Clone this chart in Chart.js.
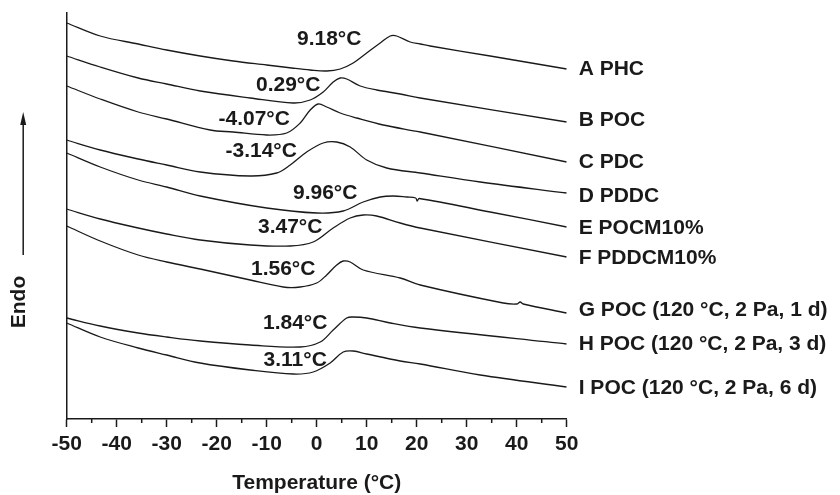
<!DOCTYPE html>
<html><head><meta charset="utf-8">
<script src="https://cdn.jsdelivr.net/npm/chart.js@4.4.1/dist/chart.umd.min.js"></script>
<style>html,body{margin:0;padding:0;background:#fff}#wrap{width:840px;height:495px;position:relative}</style>
</head><body><div id="wrap"><canvas id="c" width="840" height="495"></canvas></div>
<script>
// Temperature (°C) / heat flow (arbitrary units, endo up, curves offset)
const curveA = [[-50,396],[-43.3,383],[-35.7,375],[-30,369],[-23.3,363],[-16.7,358],[-10,354],[-5,351],[-1.3,349],[2,348],[4.7,350],[7.3,356],[10,366],[12.7,376],[14.7,383],[16,383],[18.7,377],[20.7,375],[22.7,373],[34.7,363],[50,350]];
const curveB = [[-50,363],[-43.3,352],[-35.7,341],[-30,335],[-23.3,328],[-13.3,321],[-4.7,316],[-1.3,319],[1.3,327],[3.3,337],[4.7,341],[6,340],[8.7,333],[12,329],[16.7,325],[20.7,321],[50,297]];
const curveC = [[-50,333],[-43.3,320],[-35.7,307],[-30,300],[-21.3,289],[-16.7,287],[-10,284],[-6,286],[-3.3,296],[-1.3,309],[0.3,315],[2,312],[4.7,306],[8,301],[13.3,294],[20.7,287],[50,257]];
const curveD = [[-50,279],[-43.3,269],[-35.7,260],[-30,254],[-23.3,247],[-13.3,243],[-8,246],[-5.3,254],[-2,267],[1.3,276],[4,277],[6.7,272],[10,259],[14,251],[20.7,246],[32.7,237],[50,226]];
const curveE = [[-50,266],[-43.3,252],[-35.7,239],[-30,232],[-23.3,223],[-10,211],[0,206],[5.3,208],[9.3,217],[12.7,222],[15.3,223],[18,222],[19.8,221],[20.1,218],[20.5,220.5],[34.7,207],[50,192]];
const curveF = [[-50,210],[-43.3,200],[-35.7,191],[-30,185],[-23.3,179],[-13.3,174],[-5.3,173],[-0.7,177],[3.3,191],[6.7,201],[9.3,204],[12,203],[16.7,196],[20.7,191],[50,162]];
const curveG = [[-50,193],[-43.3,178],[-35.7,164],[-30,157],[-23.3,150],[-13.3,139],[-6.7,132],[-3.3,132],[0,136],[2,144],[4,154],[5.3,158],[6.7,157],[9.3,149],[16.7,141],[20.7,134],[37.3,116],[40,115],[40.7,117],[41.3,115],[50,106]];
const curveH = [[-50,101],[-43.3,93],[-35.7,86],[-30,82],[-23.3,78],[-13.3,74],[-3.3,72],[0.7,77],[3.3,89],[6,101],[7.3,102],[10,101],[14.7,96],[20.7,91],[50,75]];
const curveI = [[-50,96],[-43.3,82],[-35.7,71],[-30,64],[-23.3,56],[-13.3,49],[-4.7,45],[-0.7,47],[2.7,56],[5.3,67],[7.3,68],[10,65],[16.7,58],[20.7,55],[32.7,44],[50,32]];

const seriesLabels = ['A PHC','B POC','C PDC','D PDDC','E POCM10%','F PDDCM10%','G POC (120 °C, 2 Pa, 1 d)','H POC (120 °C, 2 Pa, 3 d)','I POC (120 °C, 2 Pa, 6 d)'];
const seriesLabelY = [350,299,257,223,191,161,109,75,31];
const tgLabels = ['9.18°C','0.29°C','-4.07°C','-3.14°C','9.96°C','3.47°C','1.56°C','1.84°C','3.11°C'];
const tgLabelX = [2.5,-5.7,-12.5,-11.1,1.7,-5.3,-6.7,-4.3,-4.3];
const tgLabelY = [380,334,300,268,226,192,150,96,59];
const xTicks = [-50,-40,-30,-20,-10,0,10,20,30,40,50];
const xTitle = 'Temperature (°C)';
const yTitle = 'Endo';

const curves = [curveA,curveB,curveC,curveD,curveE,curveF,curveG,curveH,curveI];
const FONT = "'Liberation Sans', Arial, Helvetica, sans-serif";
const INK = '#1a1a1a';

const datasets = curves.map((c,i)=>({
  label: seriesLabels[i],
  data: c.map(p=>({x:p[0], y:p[1]})),
  showLine: true, pointRadius: 0, borderColor: INK, borderWidth: 1.3,
  tension: 0.35, fill: false
}));

const decor = {
  id: 'decor',
  afterDraw(chart){
    const ctx = chart.ctx, xs = chart.scales.x, ys = chart.scales.y, ca = chart.chartArea;
    ctx.save();
    // minor ticks
    ctx.strokeStyle = INK; ctx.lineWidth = 1.5;
    for (let t = -45; t <= 45; t += 10){
      const px = xs.getPixelForValue(t);
      ctx.beginPath(); ctx.moveTo(px, ca.bottom); ctx.lineTo(px, ca.bottom + 4); ctx.stroke();
    }
    ctx.fillStyle = INK;
    ctx.font = 'bold 21px ' + FONT;
    ctx.textBaseline = 'middle';
    // Tg annotations
    ctx.textAlign = 'center';
    tgLabels.forEach((s,i)=>{
      ctx.fillText(s, xs.getPixelForValue(tgLabelX[i]), ys.getPixelForValue(tgLabelY[i]));
    });
    // series labels at right
    ctx.textAlign = 'left';
    seriesLabels.forEach((s,i)=>{
      ctx.fillText(s, ca.right + 12, ys.getPixelForValue(seriesLabelY[i]));
    });
    // Endo + arrow
    const ax = ca.left - 43.5;
    const tip = ys.getPixelForValue(307), base = ys.getPixelForValue(164);
    ctx.lineWidth = 1.5;
    ctx.beginPath(); ctx.moveTo(ax, base); ctx.lineTo(ax, tip + 8); ctx.stroke();
    ctx.beginPath(); ctx.moveTo(ax, tip); ctx.lineTo(ax - 3, tip + 13); ctx.lineTo(ax + 3, tip + 13); ctx.closePath(); ctx.fill();
    ctx.translate(ca.left - 47, ys.getPixelForValue(117));
    ctx.rotate(-Math.PI/2);
    ctx.textAlign = 'center';
    ctx.fillText(yTitle, 0, 0);
    ctx.restore();
  }
};

new Chart(document.getElementById('c'), {
  type: 'scatter',
  data: { datasets },
  options: {
    responsive: false, animation: false, devicePixelRatio: 1,
    layout: { padding: { left: 0, top: 13, right: 273.3, bottom: 0 } },
    plugins: { legend: { display: false }, tooltip: { enabled: false } },
    scales: {
      x: {
        type: 'linear', min: -50, max: 50,
        afterBuildTicks: (s)=>{ s.ticks = xTicks.map(v=>({value:v})); },
        afterFit: (s)=>{ s.height = 76; },
        grid: { display: true, drawOnChartArea: false, drawTicks: true, tickLength: 8, color: INK, tickWidth: 1.5 },
        border: { display: true, color: INK, width: 1.5 },
        ticks: { color: INK, font: { family: FONT, size: 21, weight: 'bold' }, padding: 5, maxRotation: 0, autoSkip: false },
        title: { display: true, text: xTitle, color: INK, font: { family: FONT, size: 21, weight: 'bold' }, padding: { top: 0, bottom: -1 } }
      },
      y: {
        type: 'linear', min: 0, max: 406,
        afterFit: (s)=>{ s.width = 66.7; },
        grid: { display: true, drawOnChartArea: false, drawTicks: false },
        border: { display: true, color: INK, width: 1.5 },
        ticks: { display: false }
      }
    }
  },
  plugins: [decor]
});
</script>
</body></html>
